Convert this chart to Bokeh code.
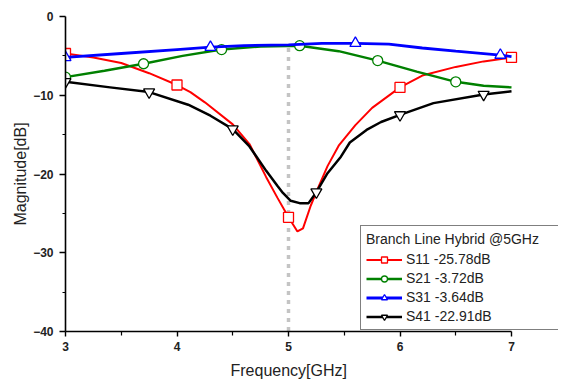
from bokeh.plotting import figure
from bokeh.models import Range1d, FixedTicker, Legend, LegendItem, Title
from bokeh.embed import file_html
from bokeh.resources import INLINE

# ---------------- data ----------------
freq_s11 = [3.0, 3.25, 3.5, 3.75, 4.0, 4.12, 4.25, 4.5, 4.65, 4.8, 4.9, 5.0, 5.08, 5.13,
            5.2, 5.27, 5.35, 5.45, 5.6, 5.75, 6.0, 6.2, 6.5, 6.75, 7.0]
s11 = [-4.7, -5.2, -5.9, -7.2, -8.7, -9.6, -10.9, -13.7, -16.2, -20.4, -23.0, -25.5, -27.3, -26.9,
       -24.0, -21.6, -19.0, -16.4, -13.8, -11.6, -9.0, -7.5, -6.4, -5.7, -5.2]
mk_f_s11 = [3.0, 4.0, 5.0, 6.0, 7.0]
mk_s11 = [-4.7, -8.7, -25.5, -9.0, -5.2]

freq_s21 = [3.0, 3.35, 3.7, 4.05, 4.4, 4.75, 5.1, 5.45, 5.8, 6.15, 6.5, 6.75, 7.0]
s21 = [-7.7, -6.9, -6.0, -5.0, -4.2, -3.8, -3.7, -4.4, -5.6, -7.0, -8.3, -8.8, -9.0]
mk_f_s21 = [3.0, 3.7, 4.4, 5.1, 5.8, 6.5]
mk_s21 = [-7.7, -6.0, -4.2, -3.7, -5.6, -8.3]

freq_s31 = [3.0, 3.5, 4.0, 4.3, 4.6, 5.0, 5.3, 5.6, 5.9, 6.2, 6.5, 6.9, 7.0]
s31 = [-5.2, -4.7, -4.2, -3.9, -3.7, -3.6, -3.4, -3.4, -3.5, -4.0, -4.4, -4.9, -5.1]
mk_f_s31 = [3.0, 4.3, 5.6, 6.9]
mk_s31 = [-5.2, -3.9, -3.4, -4.9]

freq_s41 = [3.0, 3.4, 3.75, 4.1, 4.3, 4.5, 4.65, 4.8, 4.9, 4.95, 5.02, 5.1, 5.18, 5.25,
            5.35, 5.47, 5.55, 5.7, 5.83, 6.0, 6.3, 6.75, 7.0]
s41 = [-8.3, -9.0, -9.6, -11.2, -12.6, -14.3, -16.5, -19.6, -21.5, -22.4, -23.4, -23.7, -23.7, -22.3,
       -19.9, -17.8, -16.0, -14.4, -13.4, -12.5, -11.0, -9.9, -9.5]
mk_f_s41 = [3.0, 3.75, 4.5, 5.25, 6.0, 6.75]
mk_s41 = [-8.3, -9.6, -14.3, -22.3, -12.5, -9.9]

ref_f = [5.0, 5.0]
ref_db = [-4.0, -40.0]

legend_title = "Branch Line Hybrid @5GHz"
labels = ["S11 -25.78dB", "S21 -3.72dB", "S31 -3.64dB", "S41 -22.91dB"]
x_ticks = [3, 4, 5, 6, 7]
x_minor = [3.5, 4.5, 5.5, 6.5]
y_ticks = [0, -10, -20, -30, -40]
y_minor = [-5, -15, -25, -35]

# ---------------- figure ----------------
# frame runs 65..558 px; the axis itself is bounded to 3..7 GHz (111.5 px per GHz)
p = figure(width=558, height=384, output_backend="svg", toolbar_location=None,
           x_range=Range1d(3, 7.4215), y_range=Range1d(-40, 0),
           min_border_left=65, min_border_right=0, min_border_top=16, min_border_bottom=52)
p.outline_line_color = None
p.grid.visible = False
p.background_fill_color = "white"
p.border_fill_color = "white"

FONT = "Liberation Sans"
for ax in (p.xaxis[0], p.yaxis[0]):
    ax.axis_line_width = 1.6
    ax.axis_line_color = "black"
    ax.major_tick_line_color = "black"
    ax.minor_tick_line_color = "black"
    ax.major_tick_line_width = 1.4
    ax.minor_tick_line_width = 1.2
    ax.major_tick_in = 0
    ax.minor_tick_in = 0
    ax.major_label_text_font = FONT
    ax.major_label_text_font_style = "bold"
    ax.major_label_text_font_size = "12px"
    ax.major_label_text_color = "#222222"
    ax.axis_label_text_font = FONT
    ax.axis_label_text_font_style = "normal"
    ax.axis_label_text_font_size = "16px"
    ax.axis_label_text_color = "#222222"

p.xaxis.ticker = FixedTicker(ticks=x_ticks, minor_ticks=x_minor)
p.yaxis.ticker = FixedTicker(ticks=y_ticks, minor_ticks=y_minor)
p.xaxis.bounds = (3, 7)
p.xaxis.major_tick_out = 5
p.xaxis.minor_tick_out = 4
p.yaxis.major_tick_out = 6
p.yaxis.minor_tick_out = 3
p.xaxis.major_label_standoff = 5
p.yaxis.major_label_standoff = 6
p.yaxis.axis_label = "Magnitude[dB]"
p.yaxis.axis_label_standoff = 1

# x axis title centred under 5 GHz (the middle of the bounded axis)
xt = Title(text="Frequency[GHz]", align="left", offset=165, standoff=12,
           text_font=FONT, text_font_size="16px", text_font_style="normal",
           text_color="#222222")
p.add_layout(xt, "below")

# reference dotted line at 5 GHz
p.line(ref_f, ref_db, line_color="#c4c4c4", line_width=3.5, line_dash="4 5")

series = [
    (freq_s11, s11, mk_f_s11, mk_s11, "red", "square", 10, 2.0),
    (freq_s21, s21, mk_f_s21, mk_s21, "green", "circle", 10, 2.5),
    (freq_s31, s31, mk_f_s31, mk_s31, "blue", "triangle", 11, 2.8),
    (freq_s41, s41, mk_f_s41, mk_s41, "black", "inverted_triangle", 11, 2.5),
]
items = []
for (fx, fy, mx, my, col, mk, sz, lw), lab in zip(series, labels):
    r1 = p.line(fx, fy, line_color=col, line_width=lw)
    r2 = p.scatter(mx, my, marker=mk, size=sz, line_color=col, fill_color="white",
                   line_width=1.3)
    items.append(LegendItem(label=lab, renderers=[r1, r2]))

leg = Legend(items=items, location=(295, 1), title=legend_title,
             title_text_font=FONT, title_text_font_size="14px", title_text_font_style="normal",
             title_text_color="#222222", title_standoff=4,
             label_text_font=FONT, label_text_font_size="14px", label_text_color="#222222",
             glyph_width=36, glyph_height=15, label_height=15, label_standoff=4,
             label_width=200, spacing=3, padding=5, margin=0,
             border_line_color="black", border_line_width=1.2,
             background_fill_color="white", background_fill_alpha=1.0)
p.add_layout(leg, "center")

open("out.html", "w").write(file_html(p, INLINE))
